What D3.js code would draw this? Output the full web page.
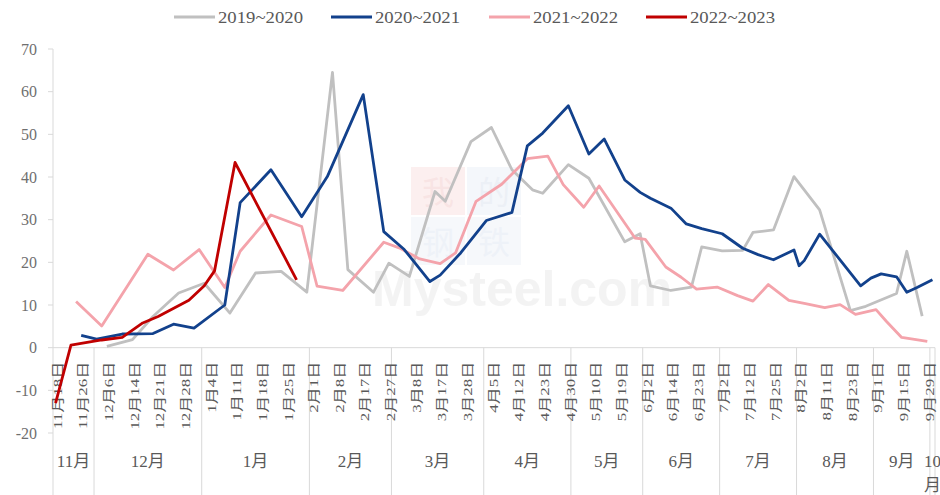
<!DOCTYPE html>
<html>
<head>
<meta charset="utf-8">
<script src="https://cdn.jsdelivr.net/npm/d3@7/dist/d3.min.js"></script>
<style>
  body { margin: 0; background: #fff; }
  svg { display: block; }
</style>
</head>
<body>
<script>
// category axis: 172 dates, every 5th one is labelled
const categoryCount = 172
const tickLabels = ["11月18日", "11月26日", "12月6日", "12月14日", "12月21日", "12月28日",
    "1月4日", "1月11日", "1月18日", "1月25日", "2月1日", "2月8日", "2月17日", "2月27日",
    "3月8日", "3月17日", "3月28日", "4月5日", "4月12日", "4月23日", "4月30日", "5月10日",
    "5月19日", "6月2日", "6月14日", "6月23日", "7月2日", "7月12日", "7月25日", "8月2日",
    "8月11日", "8月23日", "9月1日", "9月15日", "9月29日"]
const months = ["11月", "12月", "1月", "2月", "3月", "4月", "5月", "6月", "7月", "8月", "9月", "10月"]
const monthStarts = [0, 8, 29, 50, 66, 84, 101, 115, 130, 145, 160, 171, 172]
const yTicks = [-20, -10, 0, 10, 20, 30, 40, 50, 60, 70]

const seriesNames = ["2019~2020", "2020~2021", "2021~2022", "2022~2023"]

// [category index, value]
const s2019 = [[10, 0.3], [15, 1.9], [19, 7.3], [24, 12.8], [29, 15.1], [34, 8.1], [39, 17.5],
    [44, 17.9], [49, 13], [54, 64.5], [57, 18.3], [62, 13], [65, 19.8], [69, 16.7], [74, 36.6],
    [76, 34.3], [81, 48.3], [85, 51.6], [89, 41.7], [93, 37], [95, 36.2], [100, 42.9], [104, 39.7],
    [111, 24.8], [114, 26.7], [116, 14.5], [120, 13.4], [124, 14.2], [126, 23.6], [130, 22.7],
    [134, 22.8], [136, 27], [140, 27.6], [144, 40.1], [149, 32.3], [155, 8.7], [158, 9.7],
    [164, 12.7], [166, 22.6], [169, 7.4]]
const s2020 = [[5, 2.9], [8, 2.0], [13, 3.2], [19, 3.3], [23, 5.5], [27, 4.6], [33, 10], [36, 34],
    [42, 41.7], [48, 30.7], [53, 40.1], [60, 59.3], [64, 27.2], [68, 23], [73, 15.5], [75, 17],
    [79, 22.2], [84, 29.8], [89, 31.7], [92, 47.3], [95, 50.3], [100, 56.7], [104, 45.4],
    [107, 48.9], [111, 39.3], [114, 36.4], [116, 35], [120, 32.7], [123, 29], [126, 27.9],
    [130, 26.7], [134, 23.3], [137, 21.8], [140, 20.6], [144, 22.9], [145, 19.2], [146, 20.4],
    [149, 26.6], [157, 14.5], [159, 16.3], [161, 17.3], [164, 16.6], [166, 13], [168, 14.1],
    [171, 15.9]]
const s2021 = [[4, 10.8], [9, 5.1], [18, 21.9], [23, 18.2], [28, 23], [33, 14.1], [36, 22.6],
    [42, 31.1], [48, 28.4], [51, 14.4], [56, 13.4], [64, 24.7], [67, 23.4], [71, 20.8], [75, 19.7],
    [78, 22.2], [82, 34.3], [87, 38.3], [92, 44.3], [96, 44.9], [99, 38.2], [103, 32.9],
    [106, 37.9], [113, 25.7], [115, 25.4], [119, 18.9], [122, 16.5], [125, 13.7], [129, 14.2],
    [133, 12.2], [136, 10.9], [139, 14.8], [143, 11.1], [146, 10.4], [150, 9.4], [153, 10.1],
    [156, 7.8], [160, 8.9], [162, 6.2], [165, 2.4], [170, 1.5]]
const s2022 = [[0, -13], [3, 0.6], [9, 1.8], [13, 2.4], [17, 5.8], [20, 7.3], [26, 11.1],
    [29, 14.5], [31, 18], [35, 43.4], [47, 15.9]]

const colors = ["#c0c0c0", "#12418c", "#f4a3ab", "#c00000"]

const width = 940, height = 495
const margin = {top: 49, left: 53, right: 5, bottom: 62}

const svg = d3.select("body").append("svg")
    .attr("width", width)
    .attr("height", height)
    .attr("viewBox", [0, 0, width, height])

const x = d3.scaleBand()
    .domain(d3.range(categoryCount))
    .range([margin.left, width - margin.right])

const y = d3.scaleLinear()
    .domain([-20, 70])
    .range([height - margin.bottom, margin.top])

const cx = i => x(i) + x.bandwidth() / 2
const edge = i => margin.left + i * x.step()

const axisColor = "#d9d9d9"
const textColor = "#595959"

// faint watermark
const wm = svg.append("g").attr("opacity", 0.4)
const wmCells = [["我", "#f9d9d9", "#efbcbc", 0, 0], ["的", "#e6ecf6", "#d0daea", 1, 0],
    ["钢", "#e9eef7", "#d6dfee", 0, 1], ["铁", "#e9eef7", "#d6dfee", 1, 1]]
wmCells.forEach(([t, bg, fg, c, r]) => {
    wm.append("rect").attr("x", 411 + c * 56).attr("y", 167 + r * 50)
        .attr("width", 54).attr("height", 48).attr("fill", bg)
    wm.append("text").attr("x", 438 + c * 56).attr("y", 190 + r * 50)
        .attr("text-anchor", "middle").attr("dominant-baseline", "central")
        .attr("font-family", "Noto Sans CJK SC").attr("font-size", 32)
        .attr("fill", fg).text(t)
})
wm.append("text").attr("x", 372).attr("y", 306)
    .attr("font-family", "Liberation Sans").attr("font-weight", "bold")
    .attr("font-size", 50).attr("fill", "#e3e3e3").text("Mysteel.com")

// y axis
const yAxis = svg.append("g")
yAxis.append("line")
    .attr("x1", margin.left).attr("x2", margin.left)
    .attr("y1", y(70)).attr("y2", height)
    .attr("stroke", axisColor)
yAxis.selectAll(".tk").data(yTicks).join("line")
    .attr("x1", margin.left - 5).attr("x2", margin.left)
    .attr("y1", d => y(d)).attr("y2", d => y(d))
    .attr("stroke", axisColor)
yAxis.selectAll("text").data(yTicks).join("text")
    .attr("x", 37).attr("y", d => y(d))
    .attr("text-anchor", "end").attr("dominant-baseline", "central")
    .attr("font-family", "Liberation Serif").attr("font-size", 16)
    .attr("fill", "#6f6f6f")
    .text(d => d)

// x axis at zero
const xAxis = svg.append("g")
xAxis.append("line")
    .attr("x1", margin.left).attr("x2", width - margin.right)
    .attr("y1", y(0)).attr("y2", y(0))
    .attr("stroke", axisColor)
xAxis.selectAll(".sep").data(monthStarts.slice(1)).join("line")
    .attr("x1", d => edge(d)).attr("x2", d => edge(d))
    .attr("y1", y(0)).attr("y2", height)
    .attr("stroke", axisColor)
xAxis.selectAll(".cat").data(tickLabels).join("text")
    .attr("transform", (d, i) => `translate(${cx(i * 5) + 2},${y(0) + 14}) scale(0.75,1) rotate(-90)`)
    .attr("text-anchor", "end").attr("dominant-baseline", "central")
    .attr("font-family", "Liberation Serif, Noto Sans CJK SC").attr("font-size", 17)
    .attr("fill", textColor)
    .text(d => d)
xAxis.selectAll(".mon").data(months.slice(0, -1)).join("text")
    .attr("x", (d, i) => (edge(monthStarts[i]) + edge(monthStarts[i + 1])) / 2)
    .attr("y", 461)
    .attr("text-anchor", "middle").attr("dominant-baseline", "central")
    .attr("font-family", "Liberation Serif, Noto Sans CJK SC").attr("font-size", 17)
    .attr("fill", textColor)
    .text(d => d)
const lastMonth = xAxis.append("text")
    .attr("x", cx(171)).attr("y", 461)
    .attr("text-anchor", "middle").attr("dominant-baseline", "central")
    .attr("font-family", "Liberation Serif, Noto Sans CJK SC").attr("font-size", 17)
    .attr("fill", textColor)
lastMonth.append("tspan").attr("x", cx(171)).text(months[11].slice(0, 2))
lastMonth.append("tspan").attr("x", cx(171)).attr("dy", 24).text(months[11].slice(2))

// lines
const line = d3.line().x(d => cx(d[0])).y(d => y(d[1]))
const drawOrder = [[s2019, 0], [s2021, 2], [s2020, 1], [s2022, 3]]
drawOrder.forEach(([data, k]) => {
    svg.append("path")
        .attr("fill", "none")
        .attr("stroke", colors[k])
        .attr("stroke-width", 2.8)
        .attr("stroke-linejoin", "round")
        .attr("d", line(data))
})

// legend
const legendX = [174, 331, 489, 646]
const legend = svg.append("g")
seriesNames.forEach((name, k) => {
    legend.append("line")
        .attr("x1", legendX[k]).attr("x2", legendX[k] + 41)
        .attr("y1", 17).attr("y2", 17)
        .attr("stroke", colors[k]).attr("stroke-width", 3)
    legend.append("text")
        .attr("x", legendX[k] + 44).attr("y", 17)
        .attr("dominant-baseline", "central")
        .attr("font-family", "Liberation Serif").attr("font-size", 17)
        .attr("textLength", 85).attr("lengthAdjust", "spacingAndGlyphs")
        .attr("fill", textColor)
        .text(name)
})
</script>
</body>
</html>
